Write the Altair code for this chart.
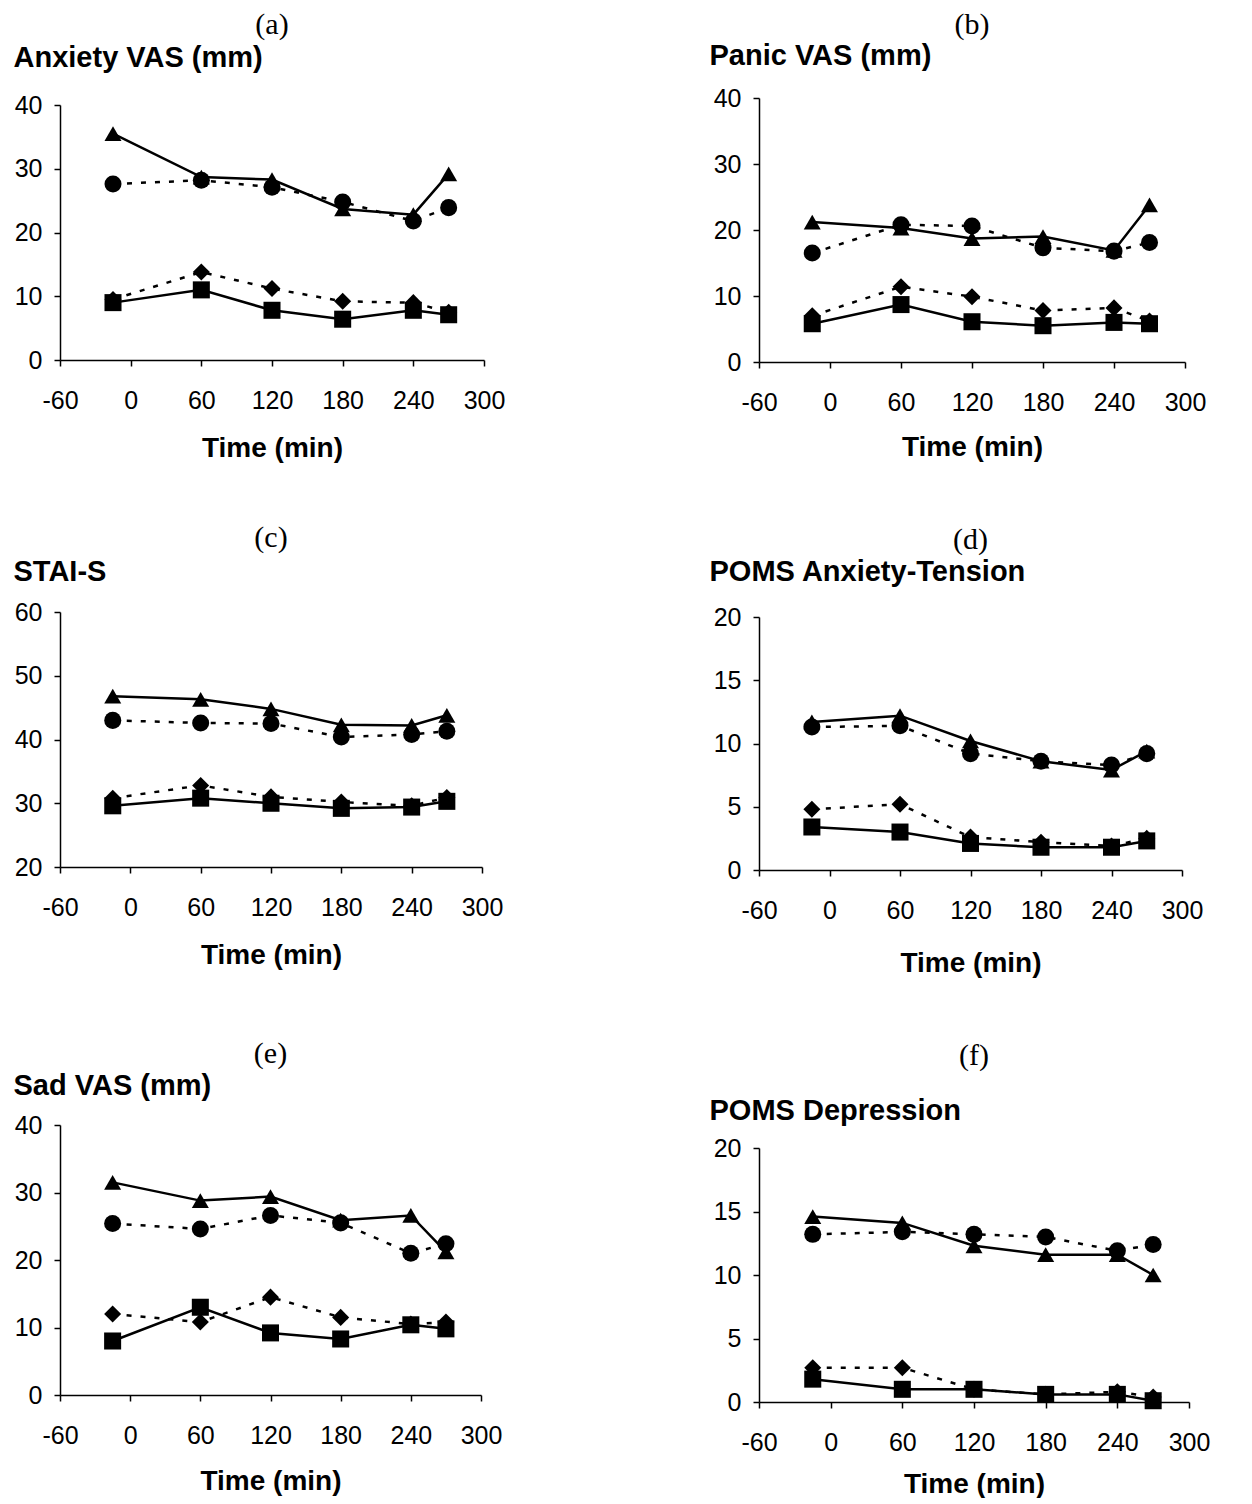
import altair as alt
import pandas as pd

TIME = [-15, 60, 120, 180, 240, 270]
SERIES = ["triangle", "circle", "diamond", "square"]
SHAPES = ["triangle-up", "circle", "diamond", "square"]
SOLID = ["triangle", "square"]

# (a) Anxiety VAS
A_TRI = [35.5, 28.7, 28.3, 23.7, 22.8, 29.2]
A_CIR = [27.6, 28.2, 27.1, 24.8, 21.8, 23.9]
A_DIA = [9.5, 13.8, 11.2, 9.2, 9.0, 7.5]
A_SQR = [9.0, 11.0, 7.8, 6.4, 7.8, 7.1]
# (b) Panic VAS
B_TRI = [21.2, 20.3, 18.7, 19.0, 16.9, 23.8]
B_CIR = [16.5, 20.8, 20.6, 17.3, 16.8, 18.1]
B_DIA = [7.0, 11.4, 9.9, 7.8, 8.2, 6.2]
B_SQR = [5.8, 8.7, 6.1, 5.5, 6.0, 5.8]
# (c) STAI-S
C_TRI = [46.8, 46.3, 44.8, 42.3, 42.2, 43.8]
C_CIR = [43.0, 42.6, 42.5, 40.4, 40.8, 41.3]
C_DIA = [30.8, 32.8, 31.0, 30.2, 29.6, 30.9]
C_SQR = [29.6, 30.8, 30.0, 29.2, 29.4, 30.3]
# (d) POMS Anxiety-Tension
D_TRI = [11.7, 12.2, 10.2, 8.6, 7.9, 9.4]
D_CIR = [11.3, 11.4, 9.2, 8.6, 8.3, 9.2]
D_DIA = [4.8, 5.2, 2.6, 2.2, 1.9, 2.5]
D_SQR = [3.4, 3.0, 2.1, 1.8, 1.8, 2.3]
# (e) Sad VAS
E_TRI = [31.5, 28.8, 29.4, 25.9, 26.6, 21.2]
E_CIR = [25.4, 24.6, 26.6, 25.5, 21.0, 22.4]
E_DIA = [12.0, 10.8, 14.5, 11.5, 10.5, 10.8]
E_SQR = [8.0, 13.0, 9.2, 8.3, 10.4, 9.8]
# (f) POMS Depression
F_TRI = [14.6, 14.1, 12.3, 11.6, 11.6, 10.0]
F_CIR = [13.2, 13.4, 13.2, 13.0, 11.9, 12.4]
F_DIA = [2.7, 2.7, 1.0, 0.6, 0.8, 0.4]
F_SQR = [1.8, 1.0, 1.0, 0.6, 0.6, 0.1]

SANS = "Liberation Sans"
SERIF = "Liberation Serif"


def panel(label, ytitle, ymin, ymax, ystep, tri, cir, dia, sqr, w, h,
          ty, toff, xpad, tx=-47, yoff=0):
    rows = []
    for name, vals in zip(SERIES, [tri, cir, dia, sqr]):
        for t, v in zip(TIME, vals):
            rows.append({"time": t, "value": v, "series": name})
    df = pd.DataFrame(rows)
    base = alt.Chart(df)
    x = alt.X("time:Q", scale=alt.Scale(domain=[-60, 300], nice=False, zero=False),
              axis=alt.Axis(values=list(range(-60, 301, 60)), title="Time (min)",
                            labelExpr="'' + datum.value", labelFlush=False,
                            labelFontSize=25, titleFontSize=28,
                            titleFontWeight="bold", titlePadding=xpad, labelPadding=22))
    yscale = alt.Scale(domain=[ymin, ymax], nice=False, zero=False)
    if yoff:
        yscale = alt.Scale(domain=[ymin, ymax], nice=False, zero=False, range=[h + yoff, yoff])
    y = alt.Y("value:Q", scale=yscale,
              axis=alt.Axis(values=list(range(ymin, ymax + 1, ystep)), title=ytitle,
                            labelFontSize=25, titleFontSize=29,
                            titleAngle=0, titleAlign="left", titleBaseline="bottom",
                            titleX=tx, titleY=ty + yoff, titleFontWeight="bold", labelPadding=12))
    solid = base.transform_filter(
        alt.FieldOneOfPredicate(field="series", oneOf=SOLID)
    ).mark_line(color="black", strokeWidth=2.5).encode(x=x, y=y, detail="series:N")
    dotted = base.transform_filter(
        ~alt.FieldOneOfPredicate(field="series", oneOf=SOLID)
    ).mark_line(color="black", strokeWidth=2.5, strokeDash=[5, 9]).encode(x=x, y=y, detail="series:N")
    pts = base.mark_point(filled=True, color="black", size=290, opacity=1).encode(
        x=x, y=y,
        shape=alt.Shape("series:N", scale=alt.Scale(domain=SERIES, range=SHAPES), legend=None),
    )
    return alt.layer(solid, dotted, pts).properties(
        width=w, height=h + yoff,
        title=alt.TitleParams(label, font=SERIF, fontSize=30, fontWeight="normal",
                              anchor="middle", offset=toff, color="black"),
    )


left = alt.vconcat(
    panel("(a)", "Anxiety VAS (mm)", 0, 40, 10, A_TRI, A_CIR, A_DIA, A_SQR, 424, 255,
          -33, 3, 21, yoff=7),
    alt.vconcat(
        panel("(c)", "STAI-S", 20, 60, 10, C_TRI, C_CIR, C_DIA, C_SQR, 422, 255, -26, 4, 21),
        panel("(e)", "Sad VAS (mm)", 0, 40, 10, E_TRI, E_CIR, E_DIA, E_SQR, 421, 270, -25, 2, 19),
        spacing=70,
    ),
    spacing=61,
)
right = alt.vconcat(
    panel("(b)", "Panic VAS (mm)", 0, 40, 10, B_TRI, B_CIR, B_DIA, B_SQR, 426, 264,
          -28, 1, 18, tx=-50),
    alt.vconcat(
        panel("(d)", "POMS Anxiety-Tension", 0, 20, 5, D_TRI, D_CIR, D_DIA, D_SQR, 423, 253,
              -31, 2, 26, tx=-50),
        panel("(f)", "POMS Depression", 0, 20, 5, F_TRI, F_CIR, F_DIA, F_SQR, 430, 254,
              -23, 25, 15, tx=-50),
        spacing=64,
    ),
    spacing=64,
)

chart = alt.hconcat(left, right, spacing=204).properties(
    padding={"left": 5, "top": 2, "right": 5, "bottom": 0}
).configure(
    background="white",
    view=alt.ViewConfig(stroke=None),
    axis=alt.AxisConfig(
        grid=False, domainColor="black", tickColor="black", labelColor="black",
        titleColor="black", labelFont=SANS, titleFont=SANS, labelFontSize=25,
        titleFontSize=28, tickSize=6, domainWidth=1.5, tickWidth=1.5,
    ),
)

chart.save("out.html", embed_options={"renderer": "svg", "actions": False})
